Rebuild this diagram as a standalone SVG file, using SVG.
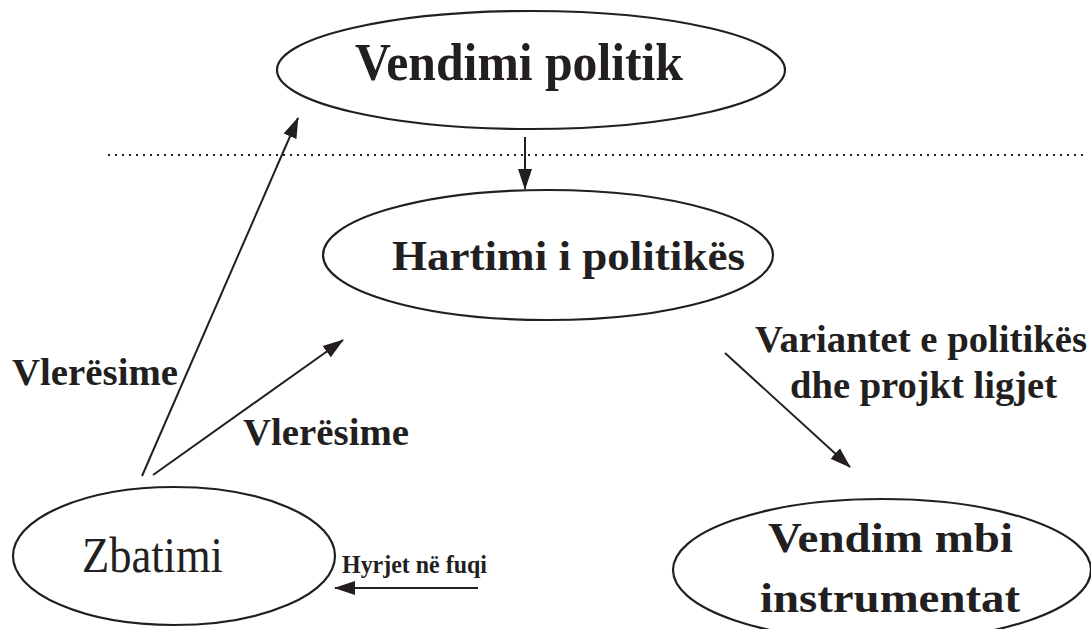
<svg xmlns="http://www.w3.org/2000/svg" width="1091" height="629" viewBox="0 0 1091 629">
<style>
.node{fill:#fff;stroke:#231f20;stroke-width:2.2}
.t{font-family:"Liberation Serif","Times New Roman",serif;font-weight:bold;fill:#231f20}
.r{font-family:"Liberation Serif","Times New Roman",serif;font-weight:normal;fill:#231f20}
.c{stroke:#231f20;stroke-width:2;fill:none}
</style>
<defs>
<marker id="ah" markerUnits="userSpaceOnUse" markerWidth="21" markerHeight="15" refX="20" refY="7" orient="auto" viewBox="0 0 21 14">
<path d="M0,0 L21,7 L0,14 z" fill="#231f20"/>
</marker>
</defs>
<rect width="1091" height="629" fill="#fff"/>
<line x1="108" y1="155" x2="1085" y2="155" stroke="#231f20" stroke-width="2" stroke-dasharray="2 5"/>
<g id="connectors">
<line class="c" x1="525" y1="137" x2="525" y2="189" marker-end="url(#ah)"/>
<line class="c" x1="142" y1="476" x2="298" y2="118" marker-end="url(#ah)"/>
<line class="c" x1="153" y1="475" x2="343" y2="340" marker-end="url(#ah)"/>
<line class="c" x1="725" y1="353" x2="850" y2="467" marker-end="url(#ah)"/>
<line class="c" x1="478" y1="588" x2="335" y2="588" marker-end="url(#ah)"/>
<text class="t" x="12" y="385" font-size="37" textLength="166" lengthAdjust="spacingAndGlyphs">Vlerësime</text>
<text class="t" x="243" y="445" font-size="37" textLength="166" lengthAdjust="spacingAndGlyphs">Vlerësime</text>
<text class="t" x="755" y="352" font-size="37" textLength="332" lengthAdjust="spacingAndGlyphs">Variantet e politikës</text>
<text class="t" x="790" y="398" font-size="37" textLength="267" lengthAdjust="spacingAndGlyphs">dhe projkt ligjet</text>
<text class="t" x="342" y="573" font-size="26" textLength="145" lengthAdjust="spacingAndGlyphs">Hyrjet në fuqi</text>
</g>
<g id="vendimi-politik">
<ellipse class="node" cx="531" cy="70" rx="254" ry="59"/>
<text class="t" x="355" y="80" font-size="53" textLength="328" lengthAdjust="spacingAndGlyphs">Vendimi politik</text>
</g>
<g id="hartimi">
<ellipse class="node" cx="548" cy="255" rx="225" ry="65"/>
<text class="t" x="392" y="270" font-size="43" textLength="353" lengthAdjust="spacingAndGlyphs">Hartimi i politikës</text>
</g>
<g id="zbatimi">
<ellipse class="node" cx="174" cy="556" rx="161" ry="69"/>
<text class="r" x="82" y="572" font-size="50" textLength="141" lengthAdjust="spacingAndGlyphs">Zbatimi</text>
</g>
<g id="vendim-mbi-instrumentat">
<ellipse class="node" cx="882" cy="570" rx="209" ry="71"/>
<text class="t" x="768" y="552" font-size="43" textLength="245" lengthAdjust="spacingAndGlyphs">Vendim mbi</text>
<text class="t" x="760" y="612" font-size="43" textLength="260" lengthAdjust="spacingAndGlyphs">instrumentat</text>
</g>
</svg>
